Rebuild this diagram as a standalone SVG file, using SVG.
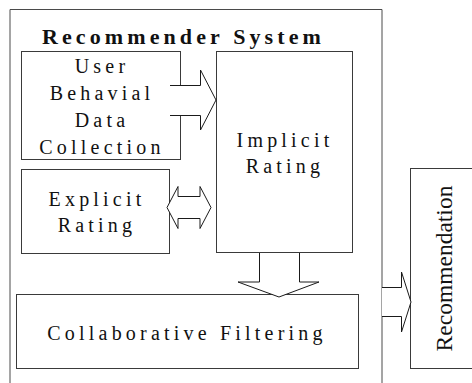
<svg xmlns="http://www.w3.org/2000/svg" width="472" height="383" viewBox="0 0 472 383">
<style>
.box{fill:#fff;stroke:#3a3a3a;stroke-width:1}
.arr{fill:#fff;stroke:#1a1a1a;stroke-width:1;stroke-linejoin:miter}
.t{font-family:"Liberation Serif","Times New Roman",serif;font-size:20px;fill:#111;letter-spacing:4.2px;text-anchor:middle}
.title{font-family:"Liberation Serif","Times New Roman",serif;font-size:22px;font-weight:bold;fill:#111;letter-spacing:4.1px}
.rec{font-family:"Liberation Serif","Times New Roman",serif;font-size:23.5px;fill:#111;text-anchor:middle}
</style>
<rect width="472" height="383" fill="#fff"/>
<g id="system">
<path d="M10,383 V9.5 H382 V383" fill="none" stroke="#4a4a4a" stroke-width="1"/>
<text class="title" x="42" y="44">Recommender System</text>
</g>
<g id="user-behavial">
<rect class="box" x="21.5" y="51.5" width="159" height="108"/>
<text class="t" x="102" y="73">User</text>
<text class="t" x="102" y="100">Behavial</text>
<text class="t" x="102" y="127">Data</text>
<text class="t" x="102" y="154">Collection</text>
</g>
<g id="explicit">
<rect class="box" x="21.5" y="169.5" width="148" height="84"/>
<text class="t" x="97" y="206">Explicit</text>
<text class="t" x="97" y="232">Rating</text>
</g>
<g id="implicit">
<rect class="box" x="216.5" y="51.5" width="136" height="201"/>
<text class="t" x="285" y="147">Implicit</text>
<text class="t" x="285" y="173">Rating</text>
</g>
<g id="collaborative">
<rect class="box" x="16.5" y="294.5" width="342" height="74"/>
<text class="t" x="187" y="340">Collaborative Filtering</text>
</g>
<g id="recommendation">
<rect class="box" x="410.5" y="168.5" width="70" height="200"/>
<text class="rec" transform="translate(452,268.5) rotate(-90)">Recommendation</text>
</g>
<g id="connectors">
<path class="arr" d="M170,85.5 H200.5 V70 L216,100 L200.5,130 V115.5 H170"/>
<path class="arr" d="M167,207.5 L178,186.5 V196.5 H200 V186.5 L211,207.5 L200,228.5 V218.5 H178 V228.5 Z"/>
<path class="arr" d="M259.5,253 V282 H238 L279,297 L319,282 H299.5 V253"/>
<path class="arr" d="M382,287.5 H401.5 V272 L411,302 L401.5,332 V316.5 H382"/>
</g>
</svg>
